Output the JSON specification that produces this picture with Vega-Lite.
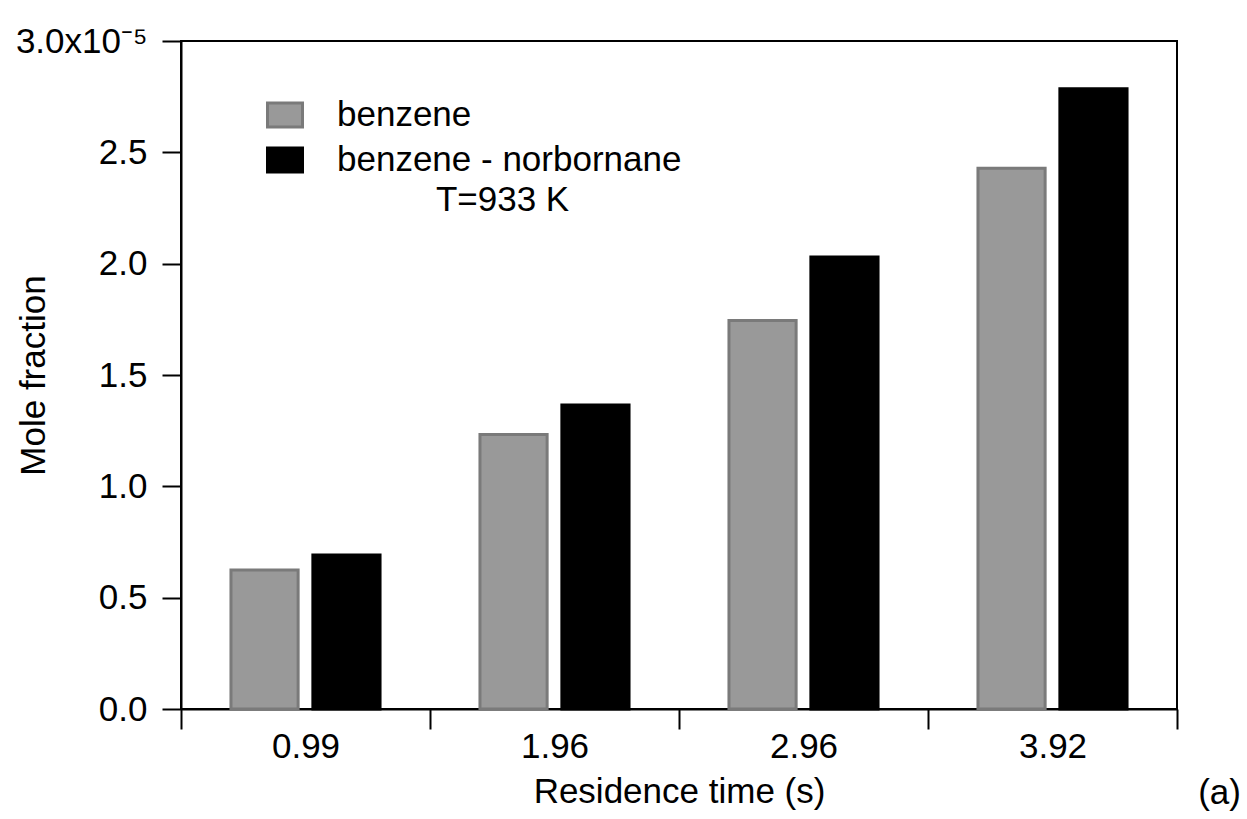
{
  "$schema": "https://vega.github.io/schema/vega-lite/v6.json",
  "width": 996,
  "height": 668,
  "autosize": {"type": "none"},
  "padding": {"left": 181, "top": 41, "right": 70, "bottom": 110},
  "background": "white",
  "config": {
    "font": "Liberation Sans",
    "view": {"stroke": "black", "strokeWidth": 2},
    "axis": {"grid": false, "domainColor": "black", "domainWidth": 2, "tickColor": "black", "tickWidth": 2, "labelColor": "black", "titleColor": "black", "labelFont": "Liberation Sans", "titleFont": "Liberation Sans", "labelFontSize": 35, "titleFontSize": 35, "titleFontWeight": "normal"}
  },
  "title": {"text": "(a)", "orient": "bottom", "anchor": "end", "frame": "group", "fontSize": 35, "fontWeight": "normal", "font": "Liberation Sans", "color": "black", "offset": -33, "dx": 64},
  "data": {
    "values": [
      {"time": "0.99", "series": "benzene", "value": 0.00000624},
      {"time": "0.99", "series": "benzene - norbornane", "value": 0.00000692},
      {"time": "1.96", "series": "benzene", "value": 0.00001233},
      {"time": "1.96", "series": "benzene - norbornane", "value": 0.00001365},
      {"time": "2.96", "series": "benzene", "value": 0.00001745},
      {"time": "2.96", "series": "benzene - norbornane", "value": 0.0000203},
      {"time": "3.92", "series": "benzene", "value": 0.00002428},
      {"time": "3.92", "series": "benzene - norbornane", "value": 0.00002786}
    ]
  },
  "encoding": {
    "x": {
      "field": "time", "type": "nominal", "sort": null,
      "scale": {"paddingInner": 0, "paddingOuter": 0},
      "axis": {"title": "Residence time (s)", "labelAngle": 0, "tickBand": "extent", "tickSize": 20, "labelPadding": 0, "titlePadding": 10}
    },
    "xOffset": {
      "field": "series", "type": "nominal", "sort": ["benzene", "benzene - norbornane"],
      "scale": {"paddingInner": 0.18, "paddingOuter": 0.61}
    },
    "y": {
      "field": "value", "type": "quantitative",
      "scale": {"domain": [0, 0.00003], "nice": false},
      "axis": {"title": "Mole fraction", "values": [0, 0.000005, 0.00001, 0.000015, 0.00002, 0.000025, 0.00003], "labelExpr": "datum.value > 0.0000299 ? '3.0x10⁻⁵' : format(datum.value * 100000, '.1f')", "tickSize": 19, "labelPadding": 15, "titleX": -137, "titleBaseline": "alphabetic"}
    }
  },
  "layer": [
    {
      "mark": {"type": "bar", "strokeWidth": 3},
      "encoding": {
        "color": {
          "field": "series", "type": "nominal",
          "scale": {"domain": ["benzene", "benzene - norbornane"], "range": ["#999999", "#000000"]},
          "legend": {
            "title": null, "orient": "none", "legendX": 85, "legendY": 55,
            "labelFontSize": 35, "labelColor": "black", "labelFont": "Liberation Sans", "labelOffset": 33, "labelLimit": 1000,
            "symbolType": "M-1,-0.686H1V0.686H-1Z", "symbolSize": 1225, "symbolStrokeWidth": 3, "symbolOpacity": 1,
            "rowPadding": 7, "padding": 0
          }
        },
        "stroke": {
          "field": "series", "type": "nominal",
          "scale": {"domain": ["benzene", "benzene - norbornane"], "range": ["#7a7a7a", "#000000"]}
        }
      }
    },
    {
      "data": {"values": [{"label": "T=933 K", "time": "1.96", "series": "benzene", "value": 0.00002236}]},
      "mark": {"type": "text", "fontSize": 35, "font": "Liberation Sans", "color": "black", "align": "center", "baseline": "alphabetic", "dx": -11},
      "encoding": {
        "text": {"field": "label"}
      }
    }
  ]
}
